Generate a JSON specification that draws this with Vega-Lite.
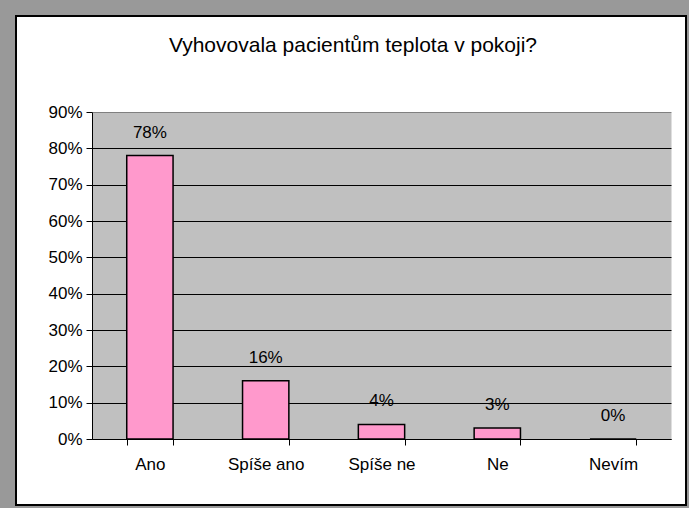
{
  "$schema": "https://vega.github.io/schema/vega-lite/v6.json",
  "width": 670,
  "height": 489,
  "autosize": {"type": "none"},
  "padding": {"left": 16, "top": 16, "right": 3, "bottom": 3},
  "background": "#999999",
  "config": {
    "view": {"fill": "white", "stroke": "black", "strokeWidth": 2},
    "font": "Liberation Sans"
  },
  "title": {
    "text": "Vyhovovala pacientům teplota v pokoji?",
    "fontSize": 21,
    "fontWeight": "normal",
    "font": "Liberation Sans",
    "color": "black",
    "anchor": "middle",
    "frame": "group",
    "dx": 2,
    "offset": -40
  },
  "data": {
    "values": [
      {"odpoved": "Ano", "podil": 0.78},
      {"odpoved": "Spíše ano", "podil": 0.16},
      {"odpoved": "Spíše ne", "podil": 0.04},
      {"odpoved": "Ne", "podil": 0.03},
      {"odpoved": "Nevím", "podil": 0.0}
    ]
  },
  "encoding": {
    "x": {
      "field": "odpoved",
      "type": "nominal",
      "sort": null,
      "scale": {"range": [76, 655], "paddingInner": 0.6, "paddingOuter": 0.3},
      "axis": {
        "orient": "bottom",
        "offset": -66,
        "tickBand": "extent",
        "tickSize": 6,
        "tickColor": "black",
        "domainColor": "black",
        "labelFontSize": 17,
        "labelColor": "black",
        "labelPadding": 11,
        "labelAngle": 0,
        "grid": false,
        "title": null
      }
    }
  },
  "layer": [
    {
      "mark": {"type": "bar", "fill": "#FF99CC", "stroke": "black", "strokeWidth": 1.5},
      "encoding": {
        "y": {
          "field": "podil",
          "type": "quantitative",
          "scale": {"domain": [0, 0.9], "range": [423, 96], "nice": false},
          "axis": {
            "orient": "left",
            "offset": -76,
            "values": [0.45],
            "grid": true,
            "gridColor": "#C0C0C0",
            "gridWidth": 327,
            "gridOpacity": 1,
            "ticks": false,
            "labels": false,
            "domain": false,
            "title": null
          }
        }
      }
    },
    {
      "mark": {"type": "text", "dy": -23, "fontSize": 17, "baseline": "middle", "color": "black"},
      "encoding": {
        "text": {"field": "podil", "type": "quantitative", "format": ".0%"},
        "y": {
          "field": "podil",
          "type": "quantitative",
          "scale": {"domain": [0, 0.9], "range": [423, 96], "nice": false},
          "axis": {
            "orient": "left",
            "offset": -76,
            "values": [0, 0.1, 0.2, 0.3, 0.4, 0.5, 0.6, 0.7, 0.8, 0.9],
            "format": ".0%",
            "grid": true,
            "gridColor": {"condition": {"test": "datum.value >= 0.89", "value": "#808080"}, "value": "black"},
            "gridWidth": 1,
            "gridOpacity": 1,
            "tickSize": 6,
            "tickColor": "black",
            "domainColor": "black",
            "labelFontSize": 17,
            "labelColor": "black",
            "labelPadding": 4,
            "title": null
          }
        }
      }
    }
  ],
  "resolve": {"axis": {"y": "independent"}}
}
